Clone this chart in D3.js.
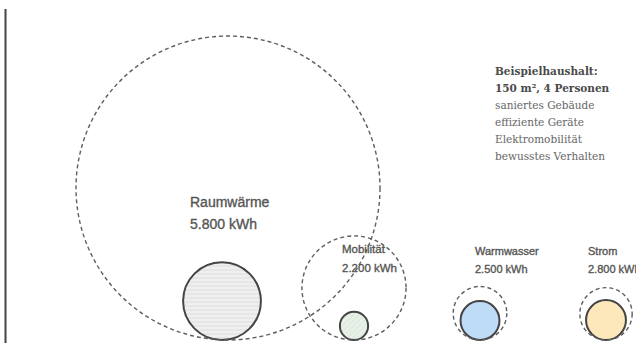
<!DOCTYPE html>
<html lang="de">
<head>
    <meta charset="UTF-8">
    <title>Energiebedarf Beispielhaushalt</title>
    <script src="https://cdn.jsdelivr.net/npm/d3@7"></script>
    <style>
        html, body { margin: 0; padding: 0; background: #fff; }
        #chart { width: 636px; height: 350px; }
        .label { font-family: 'Liberation Sans', Arial, sans-serif; fill: #555; stroke: #555; stroke-width: 0.35px; }
        .note { font-family: 'DejaVu Serif', 'Liberation Serif', serif; font-size: 10.5px; fill: #666; }
        .note.bold { font-weight: bold; fill: #4a4a4a; }
    </style>
</head>
<body>
<div id="chart"></div>
<script>
    // categories and the kWh figure printed under each name
    const categories = ['Raumwärme', 'Mobilität', 'Warmwasser', 'Strom'];
    const totals = [5800, 2200, 2500, 2800];
    // circle sizes (area units, same scale for all)
    const outerArea = [5800, 680, 180, 172];   // dashed circle
    const innerArea = [380, 50, 95, 100];       // filled circle
    const noteLines = ['saniertes Gebäude', 'effiziente Geräte', 'Elektromobilität', 'bewusstes Verhalten'];

    const width = 636, height = 350;
    const baseY = 340;

    const svg = d3.select('#chart').append('svg')
        .attr('width', width)
        .attr('height', height);

    // hatch patterns for the filled circles
    const defs = svg.append('defs');
    const hatchGray = defs.append('pattern')
        .attr('id', 'hatch-gray')
        .attr('patternUnits', 'userSpaceOnUse')
        .attr('width', 4).attr('height', 4);
    hatchGray.append('rect').attr('width', 4).attr('height', 4).attr('fill', '#efefef');
    hatchGray.append('line').attr('x1', 0).attr('y1', 2).attr('x2', 4).attr('y2', 2)
        .attr('stroke', '#dedede').attr('stroke-width', 1);

    const hatchGreen = defs.append('pattern')
        .attr('id', 'hatch-green')
        .attr('patternUnits', 'userSpaceOnUse')
        .attr('width', 4).attr('height', 4)
        .attr('patternTransform', 'rotate(45)');
    hatchGreen.append('rect').attr('width', 4).attr('height', 4).attr('fill', '#e8f1e8');
    hatchGreen.append('line').attr('x1', 0).attr('y1', 0).attr('x2', 0).attr('y2', 4)
        .attr('stroke', '#d3e3d3').attr('stroke-width', 1.2);

    const fills = {
        'Raumwärme': 'url(#hatch-gray)',
        'Mobilität': 'url(#hatch-green)',
        'Warmwasser': '#bedcf7',
        'Strom': '#fde8bb'
    };

    const x = d3.scalePoint()
        .domain(categories)
        .range([228, 606]);

    const r = d3.scaleSqrt()
        .domain([0, d3.max(outerArea)])
        .range([0, 152]);

    // left rule
    svg.append('line')
        .attr('x1', 5.5).attr('x2', 5.5)
        .attr('y1', 9).attr('y2', 343)
        .attr('stroke', '#444')
        .attr('stroke-width', 2);

    const data = categories.map((c, i) => ({
        cat: c, total: totals[i], outer: outerArea[i], inner: innerArea[i]
    }));

    // filled circles first, dashed outlines on top
    svg.selectAll('.inner')
        .data(data)
        .enter()
        .append('circle')
        .attr('class', 'inner')
        .attr('cx', d => x(d.cat) - (d.cat === 'Raumwärme' ? 6 : 0))
        .attr('cy', d => baseY - r(d.inner))
        .attr('r', d => r(d.inner))
        .attr('fill', d => fills[d.cat])
        .attr('stroke', '#444')
        .attr('stroke-width', 2);

    svg.selectAll('.outer')
        .data(data)
        .enter()
        .append('circle')
        .attr('class', 'outer')
        .attr('cx', d => x(d.cat))
        .attr('cy', d => baseY - r(d.outer))
        .attr('r', d => r(d.outer))
        .attr('fill', 'none')
        .attr('stroke', '#5e5e5e')
        .attr('stroke-width', 1.4)
        .attr('stroke-dasharray', '4,3');

    // labels: offset from circle centre, first baseline, font size
    const labelLayout = {
        'Raumwärme': { dx: -38, y: 207, size: 14, gap: 22 },
        'Mobilität': { dx: -12, y: 253, size: 11.5, gap: 19 },
        'Warmwasser': { dx: -5, y: 255, size: 11, gap: 18 },
        'Strom': { dx: -18, y: 255, size: 11, gap: 18 }
    };
    const fmt = d3.formatLocale({ decimal: ',', thousands: '.', grouping: [3], currency: ['', '€'] }).format(',');

    const labels = svg.selectAll('.label')
        .data(data)
        .enter()
        .append('text')
        .attr('class', 'label')
        .attr('font-size', d => labelLayout[d.cat].size + 'px');

    labels.append('tspan')
        .attr('x', d => x(d.cat) + labelLayout[d.cat].dx)
        .attr('y', d => labelLayout[d.cat].y)
        .text(d => d.cat);

    labels.append('tspan')
        .attr('x', d => x(d.cat) + labelLayout[d.cat].dx)
        .attr('y', d => labelLayout[d.cat].y + labelLayout[d.cat].gap)
        .text(d => fmt(d.total) + ' kWh');

    // note block top right
    const note = svg.append('g').attr('transform', 'translate(495, 0)');
    note.append('text').attr('class', 'note bold').attr('y', 75).text('Beispielhaushalt:');
    note.append('text').attr('class', 'note bold').attr('y', 92).text('150 m², 4 Personen');
    note.selectAll('.line')
        .data(noteLines)
        .enter()
        .append('text')
        .attr('class', 'note')
        .attr('y', (d, i) => 109 + i * 17)
        .text(d => d);
</script>
</body>
</html>
